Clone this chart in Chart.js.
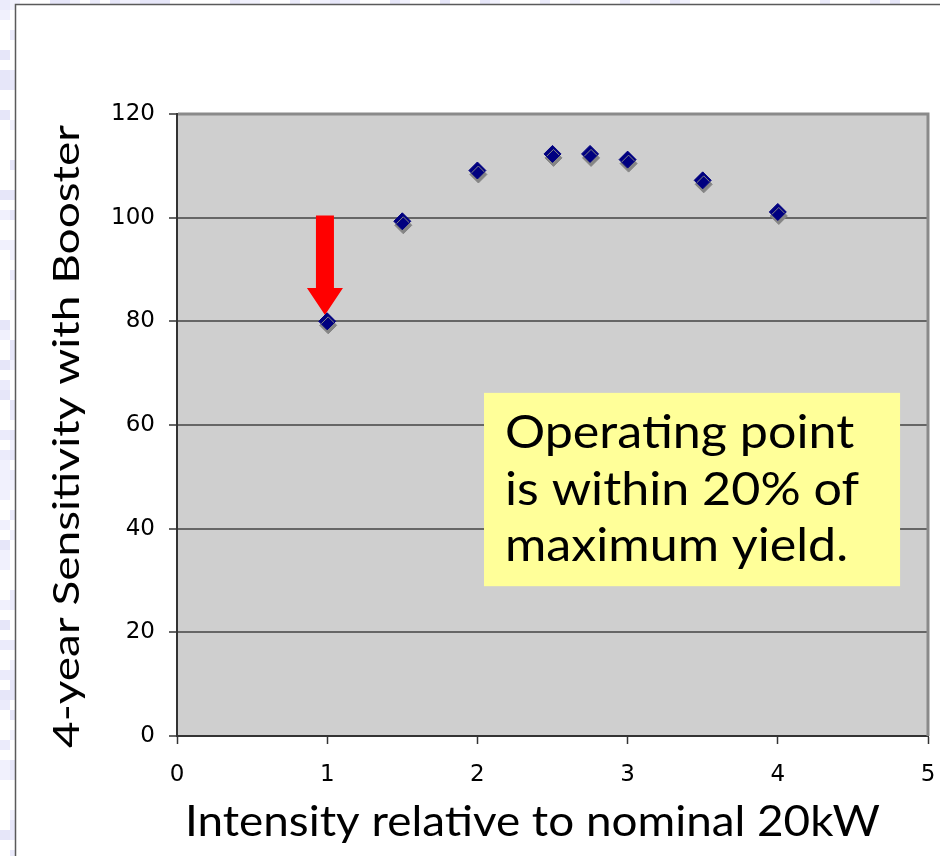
<!DOCTYPE html>
<html>
<head>
<meta charset="utf-8">
<script src="https://cdn.jsdelivr.net/npm/chart.js@4.4.1/dist/chart.umd.min.js"></script>
<style>
  html, body { margin: 0; padding: 0; background: #ffffff; }
  #wrap { width: 940px; height: 856px; }
</style>
</head>
<body>
<div id="wrap"><canvas id="chart" width="940" height="856"></canvas></div>
<script>
// Beam intensity (relative to nominal 20 kW) and resulting 4-year sensitivity
const intensity = [1, 1.5, 2, 2.5, 2.75, 3, 3.5, 4];
const sensitivity = [80, 99.3, 109.1, 112.3, 112.3, 111.2, 107.2, 101.1];

// Axis tick values
const xTickValues = [0, 1, 2, 3, 4, 5];
const yTickValues = [0, 20, 40, 60, 80, 100, 120];

// Text
const xTitle = 'Intensity relative to nominal 20kW';
const yTitle = '4-year Sensitivity with Booster';
const noteLines = ['Operating point', 'is within 20% of', 'maximum yield.'];

// Operating point marker (arrow) and note box, in data units
const operatingPoint = { x: 0.985, from: 100.4, to: 81.2 };
const noteBox = { x0: 2.044, x1: 4.814, y0: 66.2, y1: 28.9 };

const handFont = "'Comic Sans MS', Lato, 'DejaVu Sans', sans-serif";
const tickFont = { family: "'DejaVu Sans', Verdana, sans-serif", size: 23 };

// Draw text stretched to a target width
function drawFitted(ctx, text, x, y, font, width, rotate) {
  ctx.save();
  ctx.font = font;
  const w = ctx.measureText(text).width;
  ctx.translate(x, y);
  if (rotate) ctx.rotate(-Math.PI / 2);
  ctx.scale(width / w, 1);
  ctx.textAlign = 'left';
  ctx.textBaseline = 'alphabetic';
  ctx.fillStyle = '#000';
  ctx.fillText(text, 0, 0);
  ctx.restore();
}

// Slide-like backdrop: sparse lavender tiles with a white panel on top
const backdrop = {
  id: 'backdrop',
  beforeDraw(chart) {
    const ctx = chart.ctx;
    ctx.save();
    ctx.fillStyle = '#ffffff';
    ctx.fillRect(0, 0, 940, 856);
    const tones = ['#ffffff', '#ffffff', '#ebebfb', '#ffffff', '#e6e6f9', '#f1f1fd', '#ffffff'];
    const cell = 10;
    for (let gy = 0; gy < 856; gy += cell) {
      for (let gx = 0; gx < 940; gx += cell) {
        const h = Math.imul(gx + 17, 2654435761) ^ Math.imul(gy + 5, 40503);
        ctx.fillStyle = tones[((h >>> 7) % tones.length)];
        ctx.fillRect(gx, gy, cell, cell);
      }
    }
    // white panel
    ctx.fillStyle = '#ffffff';
    ctx.fillRect(15, 4, 940, 860);
    ctx.strokeStyle = '#5a5a5a';
    ctx.lineWidth = 1.5;
    ctx.beginPath();
    ctx.moveTo(15.5, 860);
    ctx.lineTo(15.5, 4.5);
    ctx.lineTo(940, 4.5);
    ctx.stroke();
    // plot area fill
    const a = chart.chartArea;
    ctx.fillStyle = '#cfcfcf';
    ctx.fillRect(a.left, a.top, a.right - a.left, a.bottom - a.top);
    ctx.restore();
  },
  beforeDatasetsDraw(chart) {
    const ctx = chart.ctx;
    const xs = chart.scales.x, ys = chart.scales.y;
    ctx.save();
    // note box
    const bx0 = xs.getPixelForValue(noteBox.x0), bx1 = xs.getPixelForValue(noteBox.x1);
    const by0 = ys.getPixelForValue(noteBox.y0), by1 = ys.getPixelForValue(noteBox.y1);
    ctx.fillStyle = '#ffff99';
    ctx.fillRect(bx0, by0, bx1 - bx0, by1 - by0);
    const font = '47px ' + handFont;
    ctx.font = font;
    const widest = Math.max(...noteLines.map(s => ctx.measureText(s).width));
    const sx = 354 / widest;
    noteLines.forEach((line, i) => {
      const w = ctx.measureText(line).width * sx;
      drawFitted(ctx, line, bx0 + 21, by0 + 55 + i * 56.7, font, w, false);
    });
    // red arrow toward the operating point
    const ax = xs.getPixelForValue(operatingPoint.x);
    const top = ys.getPixelForValue(operatingPoint.from);
    const tip = ys.getPixelForValue(operatingPoint.to);
    const headLen = 27, shaftHalf = 9, headHalf = 18;
    ctx.fillStyle = '#ff0000';
    ctx.beginPath();
    ctx.moveTo(ax - shaftHalf, top);
    ctx.lineTo(ax + shaftHalf, top);
    ctx.lineTo(ax + shaftHalf, tip - headLen);
    ctx.lineTo(ax + headHalf, tip - headLen);
    ctx.lineTo(ax, tip);
    ctx.lineTo(ax - headHalf, tip - headLen);
    ctx.lineTo(ax - shaftHalf, tip - headLen);
    ctx.closePath();
    ctx.fill();
    ctx.restore();
  },
  beforeDatasetDraw(chart) {
    const ctx = chart.ctx;
    ctx.save();
    ctx.shadowColor = '#858585';
    ctx.shadowOffsetX = 1;
    ctx.shadowOffsetY = 4;
    ctx.shadowBlur = 0;
  },
  afterDatasetDraw(chart) {
    chart.ctx.restore();
  },
  afterDraw(chart) {
    const ctx = chart.ctx;
    const a = chart.chartArea;
    ctx.save();
    // raised frame on top and right of plot area
    ctx.strokeStyle = '#8a8a8a';
    ctx.lineWidth = 3;
    ctx.beginPath();
    ctx.moveTo(a.left + 1, a.top);
    ctx.lineTo(a.right, a.top);
    ctx.lineTo(a.right, a.bottom);
    ctx.stroke();
    ctx.restore();
    // axis titles
    drawFitted(ctx, xTitle, 185, 836, '42px ' + handFont, 695, false);
    drawFitted(ctx, yTitle, 79, 748, '36px ' + handFont, 623, true);
  }
};

new Chart(document.getElementById('chart'), {
  type: 'scatter',
  data: {
    datasets: [{
      data: intensity.map((x, i) => ({ x, y: sensitivity[i] })),
      pointStyle: 'rectRot',
      pointRadius: 8.5,
      pointHoverRadius: 8.5,
      backgroundColor: '#000080',
      borderColor: '#000080',
      borderWidth: 1,
      showLine: false
    }]
  },
  options: {
    responsive: false,
    devicePixelRatio: 1,
    animation: false,
    events: [],
    layout: { padding: { top: 114, right: 12, left: 0, bottom: 0 } },
    plugins: { legend: { display: false }, tooltip: { enabled: false } },
    scales: {
      x: {
        type: 'linear',
        min: 0, max: 5,
        afterFit(s) { s.height = 120; s.paddingLeft = 0; s.paddingRight = 0; },
        afterBuildTicks(s) { s.ticks = xTickValues.map(v => ({ value: v })); },
        grid: { drawOnChartArea: false, drawTicks: true, tickLength: 8, tickColor: '#333', tickWidth: 1.5 },
        border: { color: '#333', width: 2 },
        ticks: { color: '#000', font: tickFont, padding: 17, maxRotation: 0, autoSkip: false }
      },
      y: {
        type: 'linear',
        min: 0, max: 120,
        afterFit(s) { s.width = 177; s.paddingTop = 0; s.paddingBottom = 0; },
        afterBuildTicks(s) { s.ticks = yTickValues.map(v => ({ value: v })); },
        grid: { color: '#666', lineWidth: 2, drawTicks: true, tickLength: 8, tickColor: '#333', tickWidth: 1.5 },
        border: { color: '#333', width: 2 },
        ticks: { color: '#000', font: tickFont, padding: 14 }
      }
    }
  },
  plugins: [backdrop]
});
</script>
</body>
</html>
